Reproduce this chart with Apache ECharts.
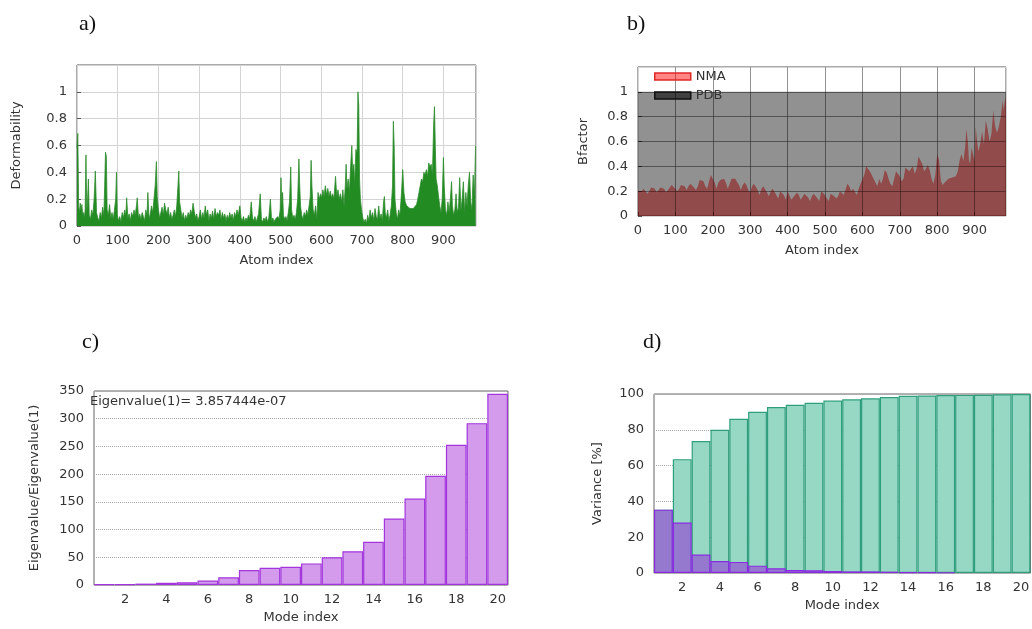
<!DOCTYPE html>
<html>
<head>
<meta charset="utf-8">
<script src="https://cdn.jsdelivr.net/npm/echarts/dist/echarts.min.js"></script>
<style>
html, body { margin: 0; padding: 0; background: #fff; }
#chart { width: 1032px; height: 629px; }
</style>
</head>
<body>
<div id="chart"></div>
<script>
// a) deformability per atom (peaks and baseline read off the plot)
var atomA = [0, 2, 4, 6, 8, 10, 12, 14, 16, 18, 20, 22, 24, 26, 28, 30, 33, 36, 39, 42, 45, 48, 51, 54, 57, 60, 63, 66, 68, 70, 72, 74, 77, 80, 83, 86, 89, 92, 95, 97, 99,
	102, 105, 108, 111, 114, 117, 120, 122, 125, 128, 131, 134, 137, 140, 143, 146, 148, 151, 154, 157, 160, 163, 166, 169, 172, 174, 177, 180, 183, 186, 189, 192, 195, 197,
	200, 203, 206, 209, 212, 215, 218, 221, 224, 227, 230, 233, 236, 239, 242, 245, 248, 250, 252, 255, 258, 261, 264, 267, 270, 273, 276, 279, 282, 285, 288, 291, 294, 297,
	300, 303, 306, 309, 312, 315, 318, 321, 324, 327, 330, 333, 336, 339, 342, 345, 348, 351, 354, 357, 360, 363, 366, 369, 372, 375, 378, 381, 384, 387, 390, 393, 396,
	400, 403, 406, 409, 412, 415, 418, 421, 424, 428, 431, 434, 437, 440, 443, 446, 450, 453, 456, 459, 462, 465, 468, 471, 475, 478, 481, 484, 487, 490, 493, 496, 499,
	501, 503, 505, 507, 510, 513, 516, 519, 522, 525, 527, 530, 533, 536, 539, 542, 545, 547, 549, 552, 555, 558, 561, 564, 567, 570, 573, 575, 577, 580, 583, 586, 589, 592, 595, 598,
	601, 604, 607, 610, 613, 616, 619, 622, 625, 628, 631, 635, 638, 641, 644, 647, 650, 653, 656, 659, 661, 663, 666, 669, 672, 675, 677, 680, 682, 685, 688, 690, 692, 694, 696, 699,
	702, 705, 708, 711, 714, 717, 720, 723, 726, 729, 732, 735, 738, 741, 744, 747, 750, 753, 755, 757, 760, 763, 766, 769, 772, 775, 777, 779, 781, 784, 787, 790, 793, 796, 798,
	800, 803, 806, 810, 814, 818, 822, 826, 830, 834, 837, 840, 843, 846, 849, 852, 855, 858, 861, 864, 867, 870, 873, 876, 878, 880, 882, 885, 888, 891, 894, 897,
	900, 902, 905, 908, 911, 914, 917, 920, 922, 925, 928, 931, 934, 937, 940, 943, 946, 949, 952, 955, 958, 961, 964, 967, 970, 973, 976, 979];
var deformA = [0.58, 0.69, 0.15, 0.1, 0.17, 0.12, 0.16, 0.08, 0.1, 0.06, 0.12, 0.53, 0.1, 0.2, 0.35, 0.08, 0.05, 0.12, 0.08, 0.2, 0.41, 0.1, 0.06, 0.04, 0.1, 0.06, 0.14, 0.08, 0.3, 0.55, 0.52, 0.12, 0.08, 0.16, 0.06, 0.1, 0.05, 0.12, 0.2, 0.4, 0.08,
	0.04, 0.07, 0.03, 0.1, 0.06, 0.12, 0.08, 0.21, 0.06, 0.09, 0.04, 0.1, 0.07, 0.12, 0.08, 0.15, 0.21, 0.06, 0.09, 0.05, 0.1, 0.07, 0.04, 0.12, 0.08, 0.25, 0.05, 0.09, 0.15, 0.1, 0.2, 0.3, 0.48, 0.22,
	0.12, 0.06, 0.1, 0.14, 0.08, 0.17, 0.12, 0.09, 0.14, 0.06, 0.1, 0.05, 0.08, 0.12, 0.07, 0.15, 0.3, 0.41, 0.18, 0.12, 0.06, 0.1, 0.04, 0.08, 0.05, 0.1, 0.07, 0.12, 0.09, 0.17, 0.11, 0.06, 0.09, 0.04,
	0.07, 0.12, 0.05, 0.1, 0.06, 0.15, 0.08, 0.12, 0.04, 0.09, 0.06, 0.11, 0.05, 0.13, 0.07, 0.1, 0.08, 0.12, 0.05, 0.1, 0.06, 0.09, 0.04, 0.08, 0.05, 0.1, 0.06, 0.09, 0.04, 0.1, 0.07, 0.12, 0.08,
	0.15, 0.06, 0.04, 0.07, 0.03, 0.06, 0.04, 0.08, 0.05, 0.18, 0.06, 0.04, 0.07, 0.03, 0.06, 0.09, 0.24, 0.05, 0.03, 0.06, 0.04, 0.07, 0.03, 0.06, 0.2, 0.04, 0.06, 0.03, 0.05, 0.04, 0.07, 0.05, 0.12,
	0.36, 0.15, 0.25, 0.08, 0.05, 0.07, 0.04, 0.1, 0.18, 0.44, 0.12, 0.06, 0.08, 0.05, 0.1, 0.2, 0.5, 0.3, 0.15, 0.08, 0.05, 0.1, 0.07, 0.12, 0.08, 0.15, 0.22, 0.49, 0.3, 0.12, 0.08, 0.15, 0.05, 0.25, 0.2, 0.24,
	0.21, 0.27, 0.22, 0.3, 0.23, 0.28, 0.22, 0.26, 0.21, 0.24, 0.2, 0.37, 0.22, 0.27, 0.2, 0.24, 0.18, 0.27, 0.15, 0.3, 0.46, 0.28, 0.35, 0.25, 0.44, 0.6, 0.4, 0.46, 0.3, 0.57, 0.55, 1.0, 0.9, 0.35, 0.2, 0.12,
	0.06, 0.03, 0.05, 0.02, 0.08, 0.04, 0.12, 0.06, 0.1, 0.04, 0.13, 0.07, 0.05, 0.15, 0.06, 0.09, 0.04, 0.18, 0.22, 0.1, 0.06, 0.12, 0.04, 0.08, 0.15, 0.3, 0.78, 0.6, 0.2, 0.1, 0.05, 0.12, 0.08, 0.2, 0.3,
	0.42, 0.25, 0.18, 0.15, 0.14, 0.13, 0.13, 0.13, 0.14, 0.16, 0.2, 0.25, 0.3, 0.35, 0.33, 0.4, 0.38, 0.42, 0.37, 0.47, 0.44, 0.46, 0.38, 0.76, 0.89, 0.6, 0.35, 0.3, 0.22, 0.15, 0.1, 0.2,
	0.51, 0.3, 0.12, 0.08, 0.18, 0.1, 0.2, 0.33, 0.15, 0.08, 0.12, 0.24, 0.1, 0.14, 0.36, 0.12, 0.2, 0.33, 0.1, 0.25, 0.15, 0.3, 0.4, 0.18, 0.12, 0.38, 0.22, 0.6];

// b) B-factors, NMA versus PDB
var atomB = [0, 5, 10, 15, 20, 25, 30, 35, 40, 45, 50, 55, 60, 65, 70, 75, 80, 85, 90, 95, 100, 105, 110, 115, 120, 125, 130, 135, 140, 145, 150, 155, 160, 165, 170, 175, 180, 185, 190, 195,
	200, 205, 210, 215, 220, 225, 230, 235, 240, 245, 250, 255, 260, 265, 270, 275, 280, 285, 290, 295, 300, 305, 310, 315, 320, 325, 330, 335, 340, 345, 350, 355, 360, 365, 370, 375, 380, 385, 390, 395,
	400, 405, 410, 415, 420, 425, 430, 435, 440, 445, 450, 455, 460, 465, 470, 475, 480, 485, 490, 495, 500, 505, 510, 515, 520, 525, 530, 535, 540, 545, 550, 555, 560, 565, 570, 575, 580, 585, 590, 595,
	600, 605, 610, 615, 620, 625, 630, 635, 640, 645, 650, 655, 660, 665, 670, 675, 680, 685, 690, 695, 700, 705, 710, 715, 720, 725, 730, 735, 740, 745, 750, 755, 760, 765, 770, 775, 780, 785, 790, 795,
	800, 805, 810, 815, 820, 825, 830, 835, 840, 845, 850, 855, 860, 865, 870, 875, 878, 882, 885, 888, 892, 896, 900, 903, 906, 910, 915, 920, 925, 930, 935, 940, 945, 950, 955, 960, 965, 970, 975, 978, 982, 984];
var nmaB = [0.2, 0.19, 0.2, 0.22, 0.21, 0.18, 0.2, 0.23, 0.24, 0.22, 0.19, 0.2, 0.23, 0.24, 0.22, 0.19, 0.2, 0.23, 0.25, 0.24, 0.22, 0.2, 0.22, 0.25, 0.26, 0.24, 0.21, 0.24, 0.26, 0.26, 0.23, 0.21, 0.24, 0.29, 0.3, 0.28, 0.24, 0.22, 0.28, 0.33,
	0.32, 0.27, 0.22, 0.27, 0.29, 0.29, 0.3, 0.27, 0.22, 0.26, 0.3, 0.31, 0.3, 0.29, 0.25, 0.21, 0.25, 0.27, 0.25, 0.21, 0.19, 0.24, 0.26, 0.25, 0.21, 0.17, 0.22, 0.24, 0.23, 0.19, 0.16, 0.2, 0.22, 0.21, 0.17, 0.14, 0.2, 0.21, 0.17, 0.13,
	0.2, 0.19, 0.13, 0.12, 0.17, 0.19, 0.17, 0.13, 0.12, 0.18, 0.18, 0.15, 0.12, 0.16, 0.18, 0.17, 0.14, 0.12, 0.2, 0.19, 0.17, 0.14, 0.12, 0.18, 0.19, 0.16, 0.14, 0.16, 0.2, 0.21, 0.17, 0.18, 0.26, 0.24, 0.2, 0.22, 0.21, 0.17, 0.22, 0.26,
	0.25, 0.33, 0.4, 0.38, 0.36, 0.33, 0.3, 0.27, 0.24, 0.3, 0.26, 0.3, 0.37, 0.35, 0.3, 0.26, 0.24, 0.3, 0.36, 0.37, 0.32, 0.28, 0.3, 0.39, 0.39, 0.36, 0.38, 0.4, 0.34, 0.38, 0.48, 0.45, 0.42, 0.36, 0.38, 0.41, 0.37, 0.3, 0.26, 0.33,
	0.5, 0.45, 0.28, 0.25, 0.27, 0.28, 0.3, 0.3, 0.31, 0.31, 0.32, 0.36, 0.45, 0.5, 0.44, 0.56, 0.7, 0.6, 0.45, 0.42, 0.55, 0.5, 0.44, 0.72, 0.62, 0.52, 0.58, 0.68, 0.58, 0.77, 0.7, 0.6, 0.66, 0.85, 0.72, 0.67, 0.72, 0.8, 0.93, 0.85, 0.96, 0.9];
var atomPdb = [0, 984];
var pdbB = [1, 1];
// tick positions of panel b, used to draw its grid on top of the shading
var bGridX = [100, 200, 300, 400, 500, 600, 700, 800, 900];
var bGridY = [0.2, 0.4, 0.6, 0.8, 1];

// c) eigenvalue ratios, d) variance per mode
var modes = ['1', '2', '3', '4', '5', '6', '7', '8', '9', '10', '11', '12', '13', '14', '15', '16', '17', '18', '19', '20'];
var eigenRatio = [1, 1.2, 2.5, 4, 5, 8, 14, 27, 31, 33, 39, 50, 61, 78, 120, 156, 197, 253, 292, 345];
var varCumul = [35.4, 63.6, 73.7, 80, 86.2, 90.1, 92.7, 94, 95.1, 96.3, 97, 97.6, 98.3, 99, 99.2, 99.4, 99.5, 99.6, 99.8, 100];
var varMode = [35.4, 28.2, 10.3, 6.7, 6.2, 4.1, 2.6, 1.7, 1.5, 1.1, 0.9, 0.9, 0.6, 0.5, 0.4, 0.3];

var font = 'DejaVu Sans';
var txt = { color: '#333', fontSize: 13, fontFamily: font };

function pairs(xs, ys) {
	return xs.map(function (x, i) { return [x, ys[i]]; });
}

function atomXAxis(idx, maxX) {
	return {
		type: 'value', gridIndex: idx, min: 0, max: maxX, interval: 100,
		name: 'Atom index', nameLocation: 'middle', nameGap: 28, nameTextStyle: txt,
		axisLine: { show: false },
		axisTick: { show: true, inside: true, length: 4, lineStyle: { color: '#555' } },
		axisLabel: Object.assign({ margin: 8, showMaxLabel: false }, txt),
		splitLine: { show: true, lineStyle: { color: '#d4d4d4', width: 1 } }
	};
}

function fracYAxis(idx, title, gap) {
	return {
		type: 'value', gridIndex: idx, min: 0, max: 1.2, interval: 0.2,
		name: title, nameLocation: 'middle', nameGap: gap, nameTextStyle: txt,
		axisLine: { show: false },
		axisTick: { show: true, inside: true, length: 4, lineStyle: { color: '#555' } },
		axisLabel: Object.assign({ margin: 10, showMaxLabel: false }, txt),
		splitLine: { show: true, lineStyle: { color: '#d4d4d4', width: 1 } }
	};
}

function modeXAxis(idx) {
	return {
		type: 'category', gridIndex: idx, data: modes, boundaryGap: true,
		name: 'Mode index', nameLocation: 'middle', nameGap: 26, nameTextStyle: txt,
		axisLine: { show: false },
		axisTick: { show: false },
		axisLabel: Object.assign({ margin: 8, interval: function (i) { return i % 2 === 1; } }, txt),
		splitLine: { show: false }
	};
}

function countYAxis(idx, title, maxY, step, gap) {
	return {
		type: 'value', gridIndex: idx, min: 0, max: maxY, interval: step,
		name: title, nameLocation: 'middle', nameGap: gap, nameTextStyle: txt,
		axisLine: { show: false },
		axisTick: { show: false },
		axisLabel: Object.assign({ margin: 10 }, txt),
		splitLine: { show: true, lineStyle: { color: '#aaa', type: 'dotted' } }
	};
}

var bGridLines = bGridX.map(function (x) { return { xAxis: x }; })
	.concat(bGridY.map(function (y) { return { yAxis: y }; }));

var panelTitle = { fontFamily: 'Liberation Serif', fontSize: 22, fontWeight: 'normal', color: '#111' };

var chart = echarts.init(document.getElementById('chart'));
var option = {
	backgroundColor: '#fff',
	animation: false,
	title: [
		{ text: 'a)', left: 74, top: 8, textStyle: panelTitle },
		{ text: 'b)', left: 622, top: 8, textStyle: panelTitle },
		{ text: 'c)', left: 77, top: 326, textStyle: panelTitle },
		{ text: 'd)', left: 638, top: 326, textStyle: panelTitle },
		{ text: 'Eigenvalue(1)= 3.857444e-07', left: 90, top: 395, padding: 0, textStyle: { fontFamily: font, fontSize: 13, fontWeight: 'normal', color: '#333' } }
	],
	legend: {
		data: [
			{ name: 'NMA', icon: 'rect', itemStyle: { color: 'rgba(255,0,0,0.48)', borderColor: '#e02828', borderWidth: 1.5 } },
			{ name: 'PDB', icon: 'rect', itemStyle: { color: 'rgba(0,0,0,0.55)', borderColor: '#111', borderWidth: 1.5 } }
		],
		orient: 'vertical', left: 654, top: 70, padding: 0, zlevel: 2,
		itemWidth: 36, itemHeight: 7, itemGap: 6,
		textStyle: txt, selectedMode: false
	},
	grid: [
		{ left: 77, top: 65, width: 399, height: 161, show: true, borderColor: '#555', borderWidth: 1, backgroundColor: 'transparent' },
		{ left: 638, top: 67, width: 368, height: 149, show: true, borderColor: '#555', borderWidth: 1, backgroundColor: 'transparent' },
		{ left: 94, top: 391, width: 414, height: 194, show: true, borderColor: '#666', borderWidth: 1, backgroundColor: 'transparent' },
		{ left: 654, top: 394, width: 387, height: 179, show: true, borderColor: '#666', borderWidth: 1, backgroundColor: 'transparent' }
	],
	xAxis: [atomXAxis(0, 980), atomXAxis(1, 984), modeXAxis(2), modeXAxis(3)],
	yAxis: [
		fracYAxis(0, 'Deformability', 54),
		fracYAxis(1, 'Bfactor', 48),
		countYAxis(2, 'Eigenvalue/Eigenvalue(1)', 350, 50, 53),
		countYAxis(3, 'Variance [%]', 100, 20, 50)
	],
	series: [
		{
			name: 'Deformability', type: 'line', xAxisIndex: 0, yAxisIndex: 0,
			data: pairs(atomA, deformA), showSymbol: false,
			lineStyle: { color: '#2c8c2c', width: 0.8 },
			areaStyle: { color: '#228b22', opacity: 1 }
		},
		{
			name: 'NMA', type: 'line', xAxisIndex: 1, yAxisIndex: 1,
			data: pairs(atomB, nmaB), showSymbol: false,
			itemStyle: { color: 'rgba(255,0,0,0.48)' },
			lineStyle: { width: 0 },
			areaStyle: { color: 'rgba(255,0,0,0.48)', opacity: 1 }
		},
		{
			name: 'PDB', type: 'line', xAxisIndex: 1, yAxisIndex: 1,
			data: pairs(atomPdb, pdbB), showSymbol: false,
			itemStyle: { color: 'rgba(0,0,0,0.43)' },
			lineStyle: { width: 0 },
			areaStyle: { color: 'rgba(0,0,0,0.43)', opacity: 1 },
			markLine: {
				z: 5, silent: true, symbol: 'none', animation: false,
				label: { show: false },
				lineStyle: { color: 'rgba(0,0,0,0.3)', type: 'solid', width: 1 },
				data: bGridLines
			}
		},
		{
			name: 'Eigenvalue', type: 'bar', xAxisIndex: 2, yAxisIndex: 2,
			data: eigenRatio, barWidth: '100%',
			itemStyle: { color: '#d49bec', borderColor: '#a236dc', borderWidth: 1.2 }
		},
		{
			name: 'Cumulative', type: 'bar', xAxisIndex: 3, yAxisIndex: 3,
			data: varCumul, barWidth: '100%', barGap: '-100%',
			itemStyle: { color: '#97d8c4', borderColor: '#2f9e7c', borderWidth: 1.2 }
		},
		{
			name: 'Variance', type: 'bar', xAxisIndex: 3, yAxisIndex: 3,
			data: varMode, barWidth: '100%', barGap: '-100%',
			itemStyle: { color: '#9479cf', borderColor: '#8a2be2', borderWidth: 1.2 }
		}
	]
};
chart.setOption(option);
</script>
</body>
</html>
